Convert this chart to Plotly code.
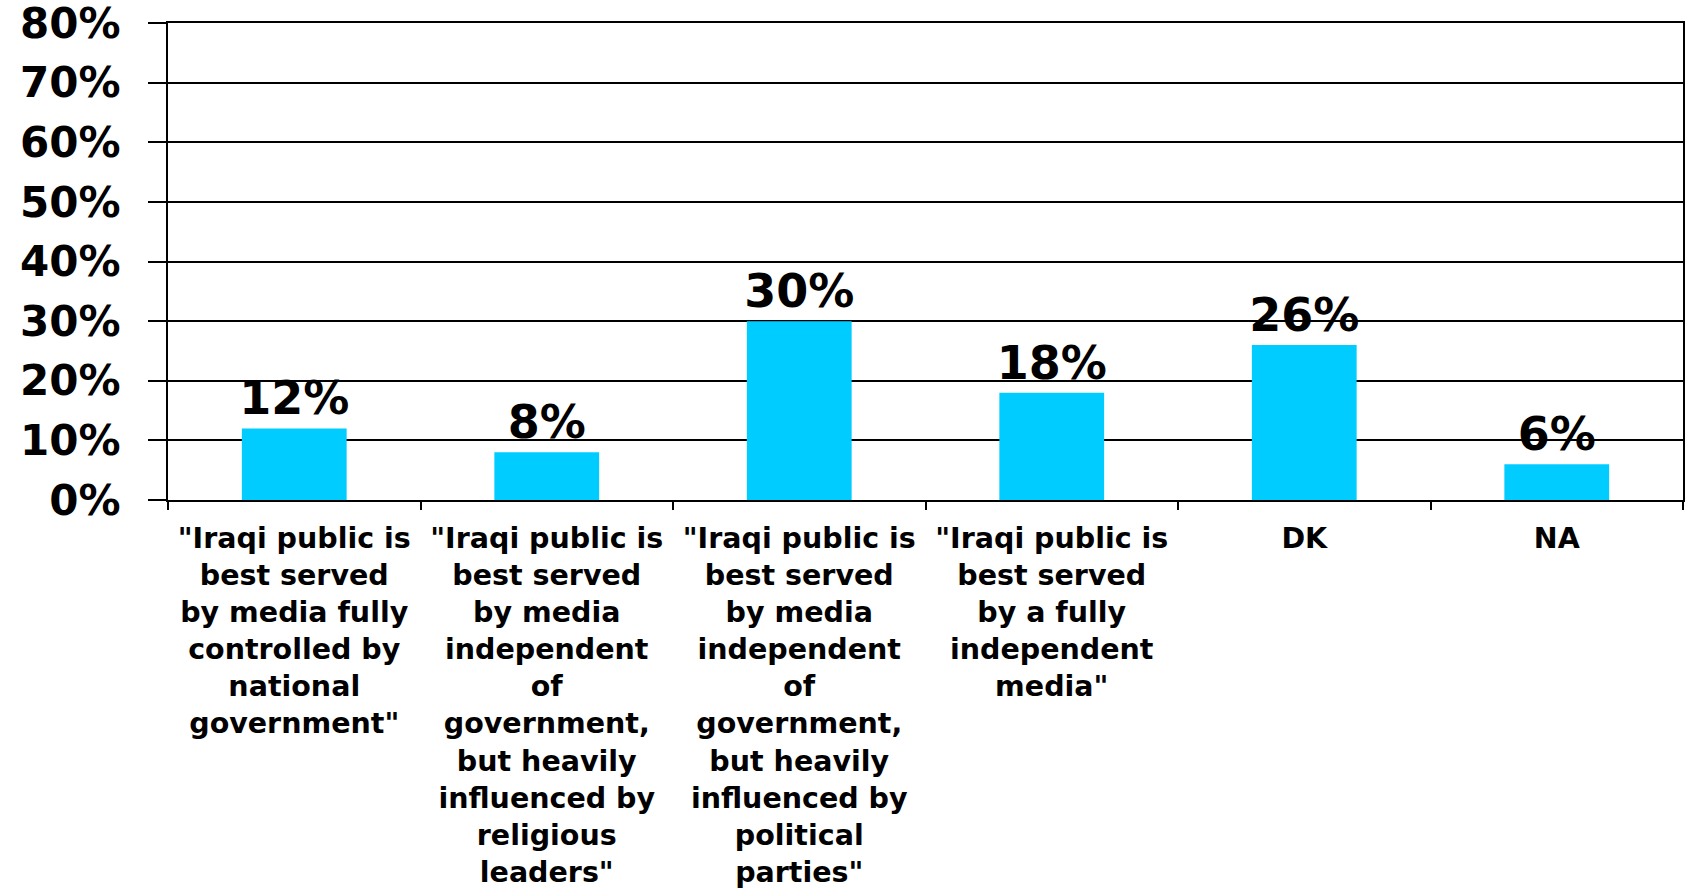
import plotly.graph_objects as go

categories = [
    '"Iraqi public is<br>best served<br>by media fully<br>controlled by<br>national<br>government"',
    '"Iraqi public is<br>best served<br>by media<br>independent<br>of<br>government,<br>but heavily<br>influenced by<br>religious<br>leaders"',
    '"Iraqi public is<br>best served<br>by media<br>independent<br>of<br>government,<br>but heavily<br>influenced by<br>political<br>parties"',
    '"Iraqi public is<br>best served<br>by a fully<br>independent<br>media"',
    'DK',
    'NA',
]
values = [12, 8, 30, 18, 26, 6]
y_ticks = [0, 10, 20, 30, 40, 50, 60, 70, 80]
y_tick_text = [f"{v}%" for v in y_ticks]
bar_text = [f"{v}%" for v in values]

FONT = "DejaVu Sans"

fig = go.Figure(
    go.Bar(
        x=categories,
        y=values,
        text=bar_text,
        texttemplate="%{text}",
        marker=dict(color="#00CCFF", line=dict(width=0)),
        textposition="outside",
        constraintext="none",
        textfont=dict(family=FONT, size=46, color="black", weight="bold"),
        cliponaxis=False,
    )
)

fig.update_layout(
    width=1686,
    height=889,
    margin=dict(l=168, r=3, t=23, b=389, autoexpand=False),
    paper_bgcolor="white",
    plot_bgcolor="white",
    bargap=0.585,
    showlegend=False,
    font=dict(family=FONT, color="black"),
)

fig.update_xaxes(
    automargin=False,
    showline=True,
    linecolor="black",
    linewidth=2,
    mirror=True,
    ticks="outside",
    tickson="boundaries",
    ticklen=8,
    tickwidth=2,
    tickcolor="black",
    ticklabelstandoff=12,
    ticklabeloverflow="allow",
    tickfont=dict(family=FONT, size=28.5, color="black", weight="bold"),
    tickangle=0,
    showgrid=False,
)

fig.update_yaxes(
    automargin=False,
    range=[0, 80],
    tickmode="array",
    tickvals=y_ticks,
    ticktext=y_tick_text,
    showline=True,
    linecolor="black",
    linewidth=2,
    mirror=True,
    ticks="outside",
    ticklen=18,
    tickwidth=2,
    tickcolor="black",
    ticklabelstandoff=19,
    ticklabeloverflow="allow",
    tickfont=dict(family=FONT, size=42, color="black", weight="bold"),
    showgrid=True,
    gridcolor="black",
    gridwidth=2,
    zeroline=False,
)

fig.write_html(
    "out.html",
    config={"displayModeBar": False},
    post_script="document.body.style.margin='0px';document.body.style.overflow='hidden';",
)
